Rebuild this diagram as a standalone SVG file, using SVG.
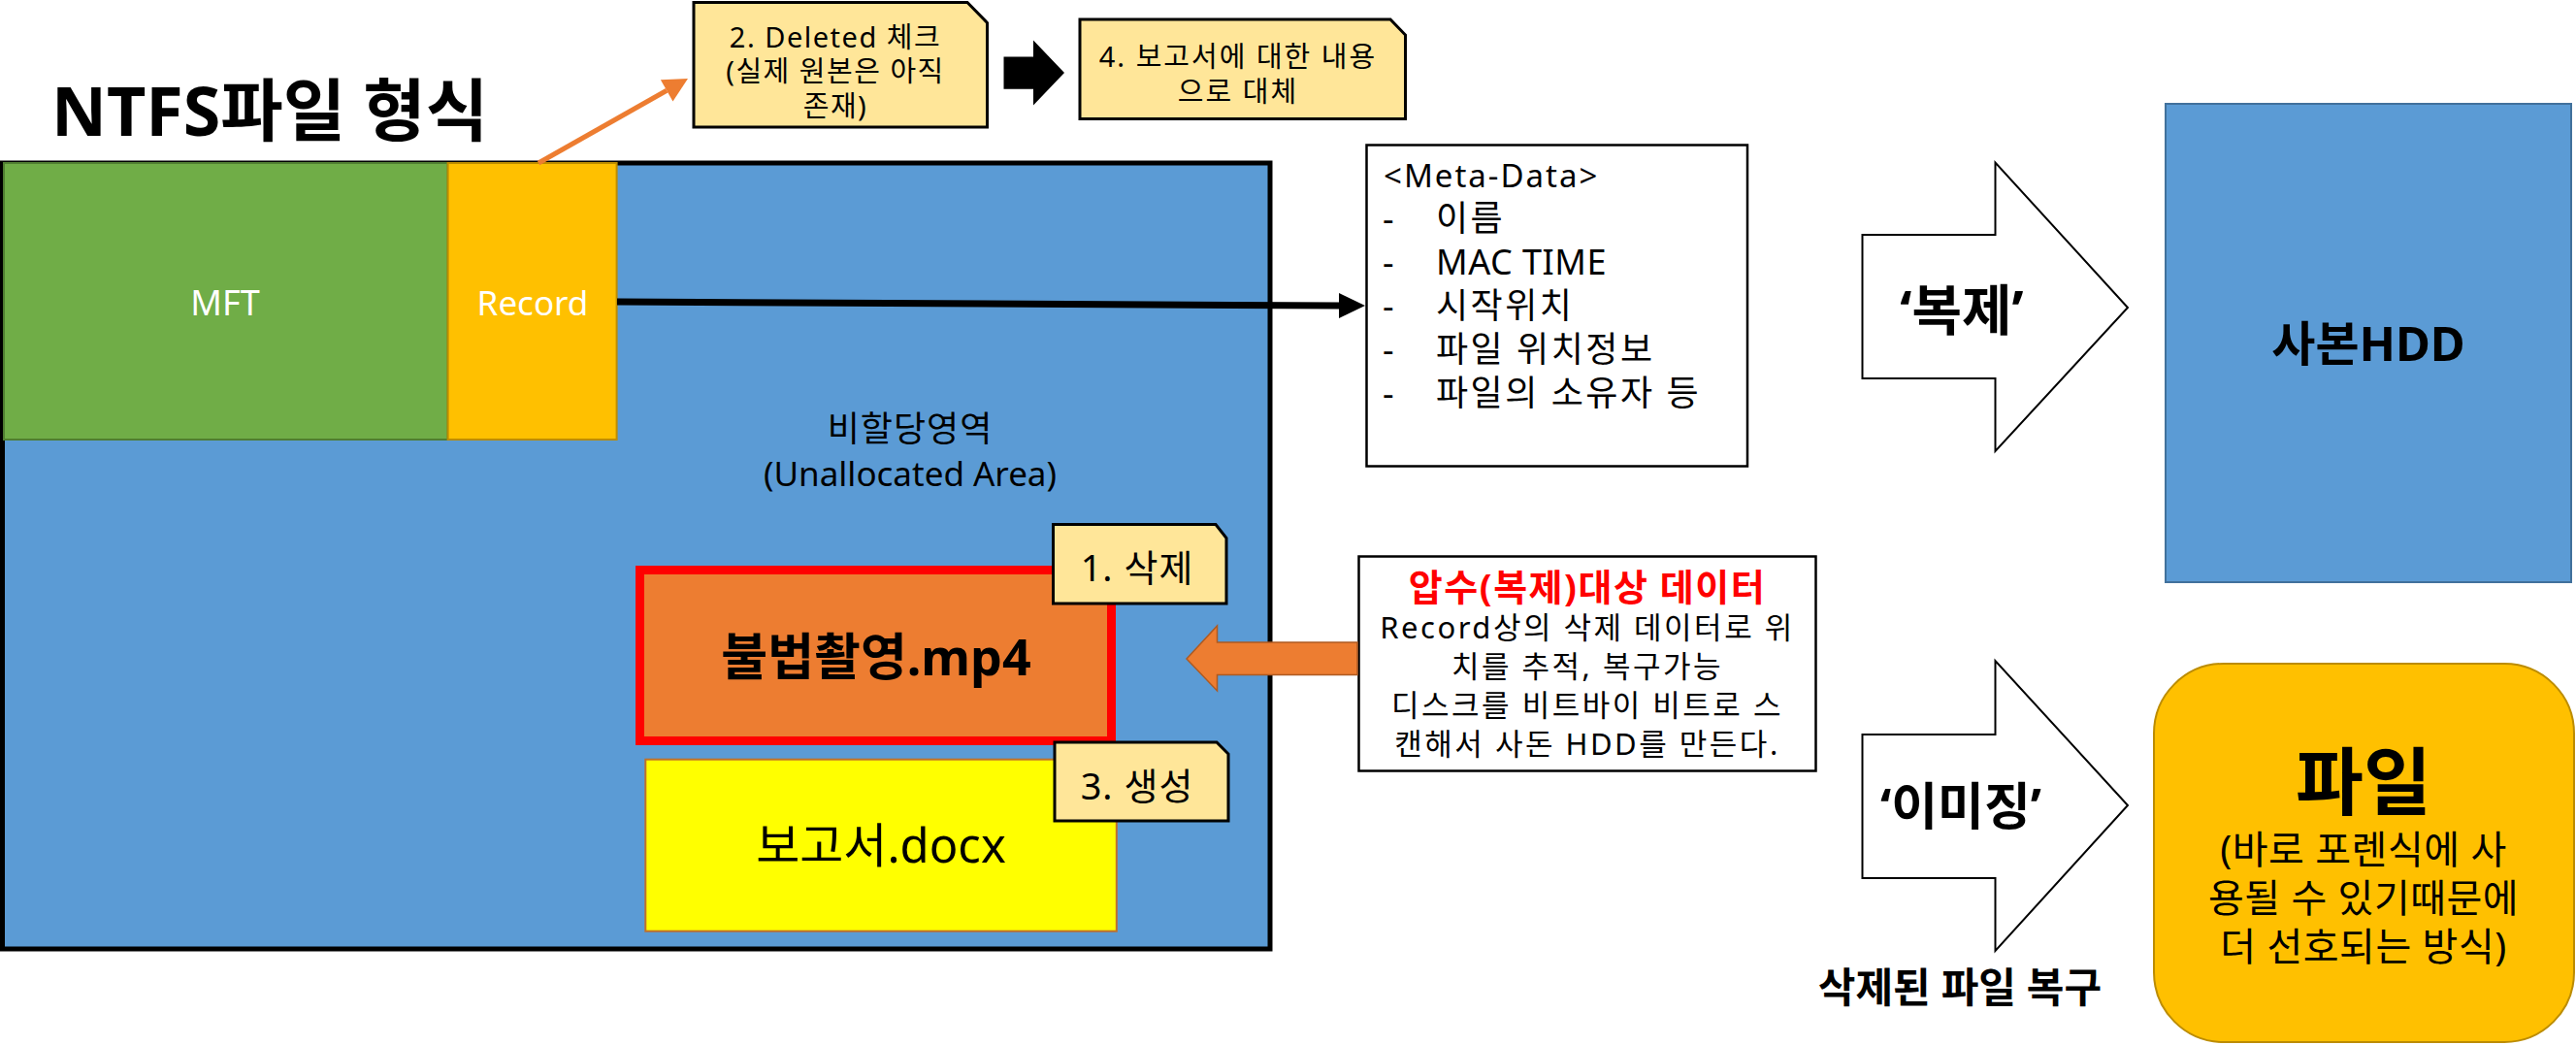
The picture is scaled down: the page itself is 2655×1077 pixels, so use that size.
<svg xmlns="http://www.w3.org/2000/svg" width="2655" height="1077" viewBox="0 0 2655 1077">
<style>
text { font-family: "Noto Sans", "Noto Sans CJK KR", sans-serif; fill: #000; }
.b { font-weight: 700; }
.m { text-anchor: middle; }
.w { fill: #fff; }
.note { fill: #FFE699; stroke: #000; stroke-width: 3; }
.box { fill: #fff; stroke: #000; stroke-width: 2.5; }
.blk { fill: #fff; stroke: #000; stroke-width: 2; }
</style>
<rect width="2655" height="1077" fill="#fff"/>

<g id="title">
<text x="53" y="140" class="b" font-size="70">NTFS파일 형식</text>
</g>

<g id="unallocated-area">
<rect x="2.5" y="168" width="1306.5" height="810" fill="#5B9BD5" stroke="#000" stroke-width="5"/>
<text class="m" x="938" y="455" font-size="36" letter-spacing="1">비할당영역</text>
<text class="m" x="938" y="501" font-size="35">(Unallocated Area)</text>
</g>

<g id="mft">
<rect x="4" y="168" width="457.6" height="285" fill="#70AD47" stroke="#507E32" stroke-width="2"/>
<text class="m w" x="232" y="325" font-size="36">MFT</text>
</g>

<g id="record">
<rect x="461.6" y="168" width="174" height="285" fill="#FFC000" stroke="#BC8C00" stroke-width="2"/>
<text class="m w" x="549" y="325" font-size="35">Record</text>
</g>

<g id="file-mp4">
<rect x="659.5" y="587.5" width="486" height="176" fill="#ED7D31" stroke="#FF0000" stroke-width="9"/>
<text class="m b" x="903" y="696" font-size="52">불법촬영.mp4</text>
</g>

<g id="file-docx">
<rect x="665.3" y="782.7" width="485.5" height="177" fill="#FFFF00" stroke="#C0702A" stroke-width="2"/>
<text class="m" x="908" y="889" font-size="49">보고서.docx</text>
</g>

<g id="note-1">
<polygon class="note" points="1085.5,540.5 1253,540.5 1264,554.5 1264,622 1085.5,622"/>
<text class="m" x="1172" y="599" font-size="38" letter-spacing="1">1. 삭제</text>
</g>

<g id="note-3">
<polygon class="note" points="1087,765 1254,765 1266,777 1266,846 1087,846"/>
<text class="m" x="1172" y="824" font-size="38" letter-spacing="1">3. 생성</text>
</g>

<g id="note-2">
<polygon class="note" points="715,2.5 997,2.5 1017.5,23.5 1017.5,131 715,131"/>
<g font-size="29" letter-spacing="1.5">
<text class="m" x="861" y="48.5">2. Deleted 체크</text>
<text class="m" x="861" y="84">(실제 원본은 아직</text>
<text class="m" x="861" y="119.5">존재)</text>
</g>
</g>

<g id="note-4">
<polygon class="note" points="1113,20 1433,20 1448.5,36 1448.5,122.5 1113,122.5"/>
<g font-size="29" letter-spacing="2">
<text class="m" x="1276" y="69">4. 보고서에 대한 내용</text>
<text class="m" x="1276" y="104.5">으로 대체</text>
</g>
</g>

<g id="meta-data">
<rect class="box" x="1408.5" y="149.5" width="392.5" height="331"/>
<text x="1426" y="193" font-size="33" letter-spacing="2">&lt;Meta-Data&gt;</text>
<g font-size="36">
<text x="1425" y="238">-</text><text x="1480" y="238" letter-spacing="2.5">이름</text>
<text x="1425" y="283">-</text><text x="1480" y="283" letter-spacing="0.5">MAC TIME</text>
<text x="1425" y="328">-</text><text x="1480" y="328" letter-spacing="2.5">시작위치</text>
<text x="1425" y="373">-</text><text x="1480" y="373" letter-spacing="2.5">파일 위치정보</text>
<text x="1425" y="418">-</text><text x="1480" y="418" letter-spacing="2.5">파일의 소유자 등</text>
</g>
</g>

<g id="seizure-data">
<rect class="box" x="1400.5" y="573.5" width="471" height="221"/>
<text class="m b" x="1636" y="619" font-size="38" letter-spacing="1.5" style="fill:#FF0000">압수(복제)대상 데이터</text>
<g font-size="31" letter-spacing="2.5">
<text class="m" x="1636" y="658">Record상의 삭제 데이터로 위</text>
<text class="m" x="1636" y="698">치를 추적, 복구가능</text>
<text class="m" x="1636" y="738">디스크를 비트바이 비트로 스</text>
<text class="m" x="1636" y="778">캔해서 사돈 HDD를 만든다.</text>
</g>
</g>

<g id="arrow-copy">
<polygon class="blk" points="1919.5,242 2056.5,242 2056.5,167.5 2193,317 2056.5,465 2056.5,390 1919.5,390"/>
<text class="m b" x="2022" y="340" font-size="56">‘복제’</text>
</g>

<g id="copy-hdd">
<rect x="2232" y="107" width="418" height="493" fill="#5B9BD5" stroke="#41719C" stroke-width="2"/>
<text class="m b" x="2441" y="372" font-size="49">사본HDD</text>
</g>

<g id="arrow-imaging">
<polygon class="blk" points="1919.5,757 2056.5,757 2056.5,681 2193,830 2056.5,980 2056.5,905 1919.5,905"/>
<text class="m b" x="2021" y="850" font-size="52">‘이미징’</text>
<text class="m b" x="2020" y="1033" font-size="42">삭제된 파일 복구</text>
</g>

<g id="file-result">
<rect x="2220" y="684" width="433" height="390" rx="72" ry="72" fill="#FFC000" stroke="#BC8C00" stroke-width="2"/>
<text class="m b" x="2436" y="834" font-size="76">파일</text>
<g font-size="40" letter-spacing="0.5">
<text class="m" x="2436" y="890">(바로 포렌식에 사</text>
<text class="m" x="2436" y="940">용될 수 있기때문에</text>
<text class="m" x="2436" y="990">더 선호되는 방식)</text>
</g>
</g>

<g id="connectors">
<line x1="636" y1="311" x2="1381" y2="315" stroke="#000" stroke-width="7"/>
<polygon points="1380,302 1407,315 1380,328" fill="#000"/>
<line x1="555" y1="168" x2="687.2" y2="93.3" stroke="#ED7D31" stroke-width="5"/>
<polygon points="709,81 693.5,104.4 680.9,82.2" fill="#ED7D31"/>
<polygon points="1034.5,58.5 1065,58.5 1065,41.5 1097,75 1065,108.5 1065,91.7 1034.5,91.7" fill="#000"/>
<polygon points="1399,662 1254.5,662 1254.5,645 1223,679 1254.5,712 1254.5,695.5 1399,695.5" fill="#ED7D31" stroke="#AE5A21" stroke-width="1.5"/>
</g>
</svg>
